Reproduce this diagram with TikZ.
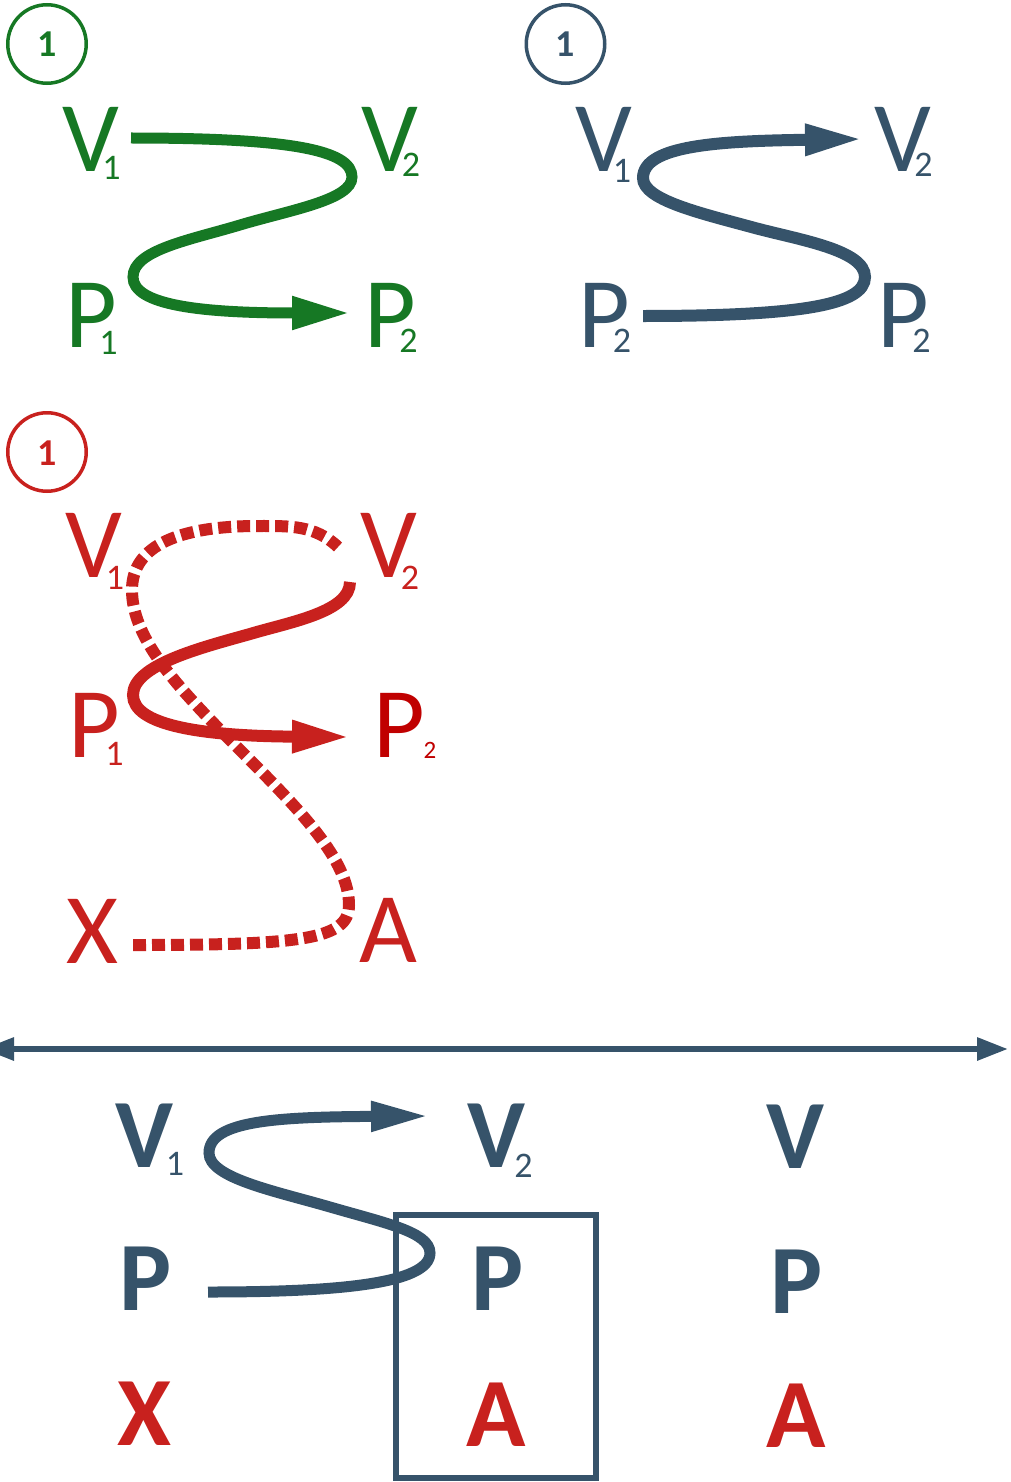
\documentclass[tikz,border=0pt]{standalone}
\usepackage{fontspec}
\setmainfont{Carlito}
\usetikzlibrary{arrows.meta}
\definecolor{gr}{RGB}{22,120,36}
\definecolor{bl}{RGB}{54,83,106}
\definecolor{rd}{RGB}{200,33,30}
\definecolor{drd}{RGB}{192,0,0}
% #1 letter, #2 horizontal distance between centres, #3 drop, #4 size of index, #5 index
\newcommand\mylbl[5]{%
  \setbox0\hbox{#1}\setbox2\hbox{\fontsize{#4}{#4}\mdseries\selectfont #5}%
  \copy0\rlap{\kern\dimexpr #2pt-0.5\wd0-0.5\wd2\relax\raisebox{-#3pt}{\copy2}}}
\begin{document}
\begin{tikzpicture}[x=1pt,y=-1pt,
  lt/.style={inner sep=0, anchor=base, font=\fontsize{100}{100}\selectfont},
  bd/.style={inner sep=0, anchor=base, font=\fontsize{98}{98}\selectfont\bfseries},
  num/.style={inner sep=0, anchor=base, font=\fontsize{38}{38}\selectfont\bfseries},
  ring/.style={draw, line width=3.5pt, circle, minimum size=78.5pt, inner sep=0},
  tri/.style={-{Triangle[length=58pt,width=#1]}}
]
\useasboundingbox (0,0) rectangle (1011,1482);

% ---------- green panel ----------
\node[ring, gr] (gcirc) at (47,44) {};
\node[num, gr] (gone) at (47.5,57) {1};
\node[lt, gr] (gV1) at (90.5,172) {\mylbl{V}{21}{8}{36}{1}};
\node[lt, gr] (gV2) at (390,172) {\mylbl{V}{21}{5}{36}{2}};
\node[lt, gr] (gP1) at (91,347) {\mylbl{P}{17.5}{7}{36}{1}};
\node[lt, gr] (gP2) at (390.5,347) {\mylbl{P}{18}{5}{36}{2}};
\coordinate (gs) at (131,138);
\coordinate (ge) at (350,313);
\draw[gr, line width=11pt, tri=31pt] (gs) .. controls (290,138) and (352,150) .. (352,177)
  .. controls (352,200) and (290,210) .. (240,225)
  .. controls (190,240) and (133,250) .. (133,277)
  .. controls (133,305) and (200,313) .. (ge);

% ---------- blue top panel ----------
\node[ring, bl] (bcirc) at (565.5,44) {};
\node[num, bl] (bone) at (565.5,57) {1};
\node[lt, bl] (bV1) at (603.5,172) {\mylbl{V}{18.5}{10}{36}{1}};
\node[lt, bl] (bV2) at (902.5,172) {\mylbl{V}{21}{5}{36}{2}};
\node[lt, bl] (bP2a) at (604,347) {\mylbl{P}{18}{5}{36}{2}};
\node[lt, bl] (bP2b) at (903,347) {\mylbl{P}{18.5}{5}{36}{2}};
\coordinate (bs) at (643,316);
\coordinate (be) at (863,139);
\draw[bl, line width=12pt, tri=29pt] (bs) .. controls (800,316) and (865,305) .. (865,277)
  .. controls (865,250) and (800,240) .. (755,228)
  .. controls (700,213) and (643,200) .. (643,178)
  .. controls (643,145) and (720,141) .. (be);

% ---------- red panel ----------
\node[ring, rd] (rcirc) at (47,452) {};
\node[num, rd] (rone) at (47.5,465) {1};
\node[lt, rd] (rV1) at (93.5,577) {\mylbl{V}{21.5}{12}{36}{1}};
\node[lt, rd] (rV2) at (388.5,577) {\mylbl{V}{21.5}{12}{36}{2}};
\node[lt, rd] (rP1) at (94,757) {\mylbl{P}{20.5}{8}{36}{1}};
\node[lt, drd] (rP2) at (399,757) {\mylbl{P}{31}{1}{25}{2}};
\node[lt, rd] (rX) at (92.5,963) {X};
\node[lt, rd] (rA) at (388,962) {A};
\coordinate (dx) at (133,945);
\coordinate (dv) at (338,547);
\draw[rd, line width=12pt, dash pattern=on 13pt off 6pt] (dx) .. controls (300,945) and (349,940) .. (349,905)
  .. controls (349,860) and (300,810) .. (240,750)
  .. controls (180,690) and (132,640) .. (132,590)
  .. controls (132,545) and (180,526) .. (258,526)
  .. controls (290,526) and (315,525) .. (dv);
\coordinate (rs) at (350,582);
\coordinate (re) at (350,737);
\draw[rd, line width=12pt, tri=30pt] (rs) .. controls (350,612) and (290,622) .. (250,634)
  .. controls (200,648) and (133,665) .. (133,695)
  .. controls (133,725) and (200,736) .. (re);

% ---------- bottom part ----------
\coordinate (al) at (-17,1049);
\coordinate (ar) at (1008,1049);
\draw[bl, line width=6pt, {Triangle[length=31pt,width=22pt]}-{Triangle[length=31pt,width=22pt]}] (al) -- (ar);

\node[bd, bl] (cV1) at (144,1167) {\mylbl{V}{31}{8}{36}{1}};
\node[bd, bl] (cV2) at (496,1167) {\mylbl{V}{27.5}{10}{36}{2}};
\node[bd, bl] (cV) at (795.5,1168) {V};
\node[bd, bl] (cPa) at (146,1310) {P};
\node[bd, bl] (cPb) at (497.5,1310) {P};
\node[bd, bl] (cPc) at (797,1313) {P};
\node[bd, rd] (cX) at (144.5,1445) {X};
\node[bd, rd] (cAb) at (496,1446) {A};
\node[bd, rd] (cAc) at (796,1447) {A};

\coordinate (cs) at (208,1292);
\coordinate (ce) at (429,1116);
\draw[bl, line width=11pt, tri=28pt] (cs) .. controls (330,1292) and (430,1285) .. (430,1253)
  .. controls (430,1232) and (385,1223) .. (330,1207)
  .. controls (275,1191) and (209,1178) .. (209,1153)
  .. controls (209,1120) and (280,1117) .. (ce);

\node[draw, bl, line width=6pt, minimum width=199.5pt, minimum height=263pt, inner sep=0] (box) at (495.75,1346.5) {};
\end{tikzpicture}
\end{document}
